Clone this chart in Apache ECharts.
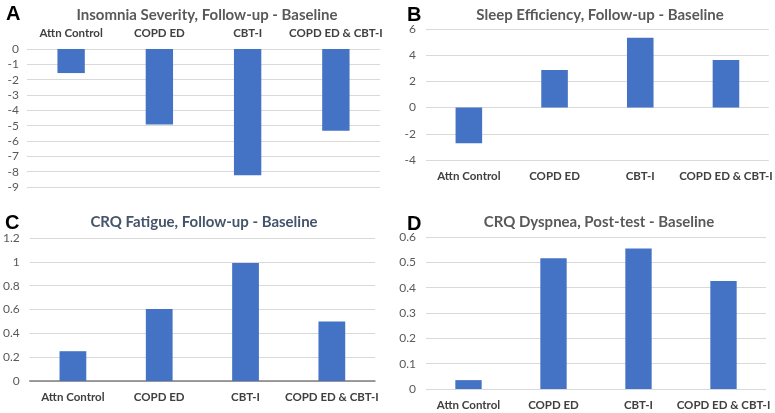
<!DOCTYPE html>
<html>
<head>
<meta charset="utf-8">
<script src="https://cdn.jsdelivr.net/npm/echarts@6/dist/echarts.min.js"></script>
<style>
  html, body { margin: 0; padding: 0; background: #fff; }
  #main { width: 775px; height: 413px; }
</style>
</head>
<body>
<div id="main"></div>
<script>
var categories = ["Attn Control", "COPD ED", "CBT-I", "COPD ED & CBT-I"];
var insomniaValues = [-1.57, -4.92, -8.24, -5.33];
var sleepEffValues = [-2.73, 2.87, 5.34, 3.63];
var fatigueValues = [0.25, 0.605, 0.99, 0.50];
var dyspneaValues = [0.035, 0.516, 0.555, 0.426];

var titles = [
  "Insomnia Severity, Follow-up - Baseline",
  "Sleep Efficiency, Follow-up - Baseline",
  "CRQ Fatigue, Follow-up - Baseline",
  "CRQ Dyspnea, Post-test - Baseline"
];
var letters = ["A", "B", "C", "D"];

var barColor = "#4472C4";
var font = "Lato, 'Open Sans', sans-serif";

var chartDom = document.getElementById("main");
var myChart = echarts.init(chartDom, null, { renderer: "canvas" });

function titleStyle(color) {
  return { fontFamily: font, fontSize: 15, fontWeight: "bold", color: color };
}
function letterStyle() {
  return { fontFamily: "'Liberation Sans', Arial, sans-serif", fontSize: 20, fontWeight: "bold", color: "#000" };
}

function xAxisFor(gridIndex, position, showLine) {
  return {
    type: "category",
    gridIndex: gridIndex,
    data: categories,
    position: position,
    axisLine: { show: showLine, onZero: false, lineStyle: { color: "#7f7f7f", width: 1.5 } },
    axisTick: { show: false },
    axisLabel: {
      fontFamily: font, fontSize: 11.5, fontWeight: "bold", color: "#404040",
      margin: 10, interval: 0
    }
  };
}
function yAxisFor(gridIndex, min, max, interval, margin) {
  return {
    type: "value",
    gridIndex: gridIndex,
    min: min,
    max: max,
    interval: interval,
    axisLine: { show: false },
    axisTick: { show: false },
    axisLabel: { fontFamily: font, fontSize: 12, color: "#595959", margin: margin },
    splitLine: { lineStyle: { color: "#d9d9d9", width: 1 } }
  };
}
function barSeries(idx, values) {
  return {
    type: "bar",
    xAxisIndex: idx,
    yAxisIndex: idx,
    data: values,
    barWidth: "31%",
    itemStyle: { color: barColor },
    silent: true
  };
}

var option = {
  animation: false,
  backgroundColor: "#fff",
  title: [
    { text: titles[0], left: 202, top: 3, textAlign: "center", textStyle: titleStyle("#595959") },
    { text: titles[1], left: 595, top: 3, textAlign: "center", textStyle: titleStyle("#595959") },
    { text: titles[2], left: 199, top: 210, textAlign: "center", textStyle: titleStyle("#44546A") },
    { text: titles[3], left: 594, top: 210, textAlign: "center", textStyle: titleStyle("#595959") },
    { text: letters[0], left: 1, top: -1, textStyle: letterStyle() },
    { text: letters[1], left: 402, top: 0, textStyle: letterStyle() },
    { text: letters[2], left: 0, top: 208, textStyle: letterStyle() },
    { text: letters[3], left: 402, top: 209, textStyle: letterStyle() }
  ],
  grid: [
    { left: 27, right: 395, top: 49, bottom: 226 },
    { left: 426, right: 0, top: 29, bottom: 253 },
    { left: 26, right: 400, top: 238, bottom: 32 },
    { left: 426, right: 9, top: 237, bottom: 24 }
  ],
  xAxis: [
    xAxisFor(0, "top", false),
    xAxisFor(1, "bottom", false),
    xAxisFor(2, "bottom", true),
    xAxisFor(3, "bottom", false)
  ],
  yAxis: [
    yAxisFor(0, -9, 0, 1, 8),
    yAxisFor(1, -4, 6, 2, 10),
    yAxisFor(2, 0, 1.2, 0.2, 10),
    yAxisFor(3, 0, 0.6, 0.1, 10)
  ],
  series: [
    barSeries(0, insomniaValues),
    barSeries(1, sleepEffValues),
    barSeries(2, fatigueValues),
    barSeries(3, dyspneaValues)
  ]
};

myChart.setOption(option);
</script>
</body>
</html>
